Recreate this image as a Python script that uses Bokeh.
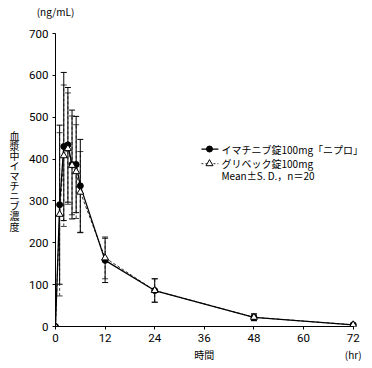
from bokeh.plotting import figure
from bokeh.models import (Label, Range1d, Whisker, ColumnDataSource, FixedTicker, TeeHead,
                          LinearAxis)
from bokeh.embed import file_html
from bokeh.resources import INLINE

hours = [0, 1, 2, 3, 4, 5, 6, 12, 24, 48, 72]
nipro_mean = [0, 291, 430, 434, 387, 387, 336, 158, 86, 22, 4]
nipro_sd = [0, 190, 177, 137, 130, 115, 111, 53, 28, 8, 2]
glivec_mean = [0, 268, 408, 425, 385, 370, 321, 164, 86, 22, 4]
glivec_sd = [0, 195, 169, 133, 118, 112, 97, 50, 28, 8, 2]
y_ticks = [0, 100, 200, 300, 400, 500, 600, 700]
x_ticks = [0, 12, 24, 36, 48, 60, 72]
legend_labels = ["イマチニブ錠100mg「ニプロ」", "グリベック錠100mg", "Mean±S. D.，n＝20"]
y_title = "血漿中イマチニブ濃度"
x_title = "時間"
x_unit = "(hr)"
y_unit = "(ng/mL)"

NUM_FONT = "Liberation Sans Narrow, Roboto"
JP_FONT = "Noto Sans CJK JP"

p = figure(width=372, height=368, output_backend="svg", toolbar_location=None,
           x_range=Range1d(0, 74.5), y_range=Range1d(0, 700), x_axis_type=None, y_axis_type=None,
           min_border_left=55, min_border_right=9, min_border_top=30, min_border_bottom=42)
p.outline_line_color = None
p.background_fill_color = "white"


def text_axis(ax, font, size, standoff):
    ax.axis_line_color = None
    ax.major_tick_line_color = None
    ax.minor_tick_line_color = None
    ax.major_tick_out = 0
    ax.major_tick_in = 0
    ax.minor_tick_out = 0
    ax.minor_tick_in = 0
    ax.axis_label_standoff = 0
    ax.major_label_orientation = "horizontal"
    ax.major_label_text_font = font
    ax.major_label_text_font_size = size
    ax.major_label_text_color = "black"
    ax.major_label_standoff = standoff


# main axes
xa = LinearAxis(ticker=FixedTicker(ticks=x_ticks), bounds=(0, 72))
ya = LinearAxis(ticker=FixedTicker(ticks=y_ticks), bounds=(0, 700))
for ax in (xa, ya):
    ax.axis_line_color = "black"
    ax.axis_line_width = 1
    ax.major_tick_line_color = "black"
    ax.major_tick_out = 3
    ax.major_tick_in = 0
    ax.minor_tick_line_color = None
    ax.minor_tick_out = 0
    ax.minor_tick_in = 0
    ax.axis_label_standoff = 0
    ax.major_label_text_font = NUM_FONT
    ax.major_label_text_font_size = "11.5px"
    ax.major_label_text_color = "black"
xa.major_label_standoff = 4
ya.major_label_standoff = 4
p.add_layout(xa, "below")
p.add_layout(ya, "left")

# x title and unit as a second text-only axis below
xt_ticks = [36, 72]
xt = LinearAxis(ticker=FixedTicker(ticks=xt_ticks),
                major_label_overrides={36: x_title, 72: x_unit})
text_axis(xt, JP_FONT, "10px", 2)
p.add_layout(xt, "below")

# y unit as a text-only axis above
yu = LinearAxis(ticker=FixedTicker(ticks=[0]), major_label_overrides={0: y_unit})
text_axis(yu, JP_FONT, "10px", 15)
p.add_layout(yu, "above")

# vertical stacked y title as a text-only axis on the left
n = len(y_title)
yt_ticks = [int(round(348 + (n / 2 - 0.5 - i) * 24)) for i in range(n)]
yt = LinearAxis(ticker=FixedTicker(ticks=yt_ticks),
                major_label_overrides={t: ch for t, ch in zip(yt_ticks, y_title)})
text_axis(yt, JP_FONT, "10px", 7)
p.add_layout(yt, "left")


def upper(m, s):
    return [a + b for a, b in zip(m, s)]


def lower(m, s):
    return [a - b for a, b in zip(m, s)]


src_n = ColumnDataSource(dict(x=hours, y=nipro_mean, up=upper(nipro_mean, nipro_sd), lo=lower(nipro_mean, nipro_sd)))
src_g = ColumnDataSource(dict(x=hours, y=glivec_mean, up=upper(glivec_mean, glivec_sd), lo=lower(glivec_mean, glivec_sd)))

wg = Whisker(source=src_g, base="x", upper="up", lower="lo", line_color="#444444", line_width=1, line_dash="3 2",
             upper_head=TeeHead(size=6, line_color="#444444", line_width=1),
             lower_head=TeeHead(size=6, line_color="#444444", line_width=1))
wn = Whisker(source=src_n, base="x", upper="up", lower="lo", line_color="black", line_width=1,
             upper_head=TeeHead(size=6, line_color="black", line_width=1),
             lower_head=TeeHead(size=6, line_color="black", line_width=1))
p.add_layout(wg)
p.add_layout(wn)

p.line("x", "y", source=src_g, line_color="#333333", line_width=1, line_dash="3 2")
p.line("x", "y", source=src_n, line_color="black", line_width=1.3)
p.scatter("x", "y", source=src_n, marker="circle", size=6, fill_color="black", line_color="black")
p.scatter("x", "y", source=src_g, marker="triangle", size=7, fill_color="white", line_color="black", line_width=1)

# legend
leg_y = [424, 389, 361]
p.line([35.3, 39.4], [leg_y[0], leg_y[0]], line_color="black", line_width=1.3)
p.scatter([37.25], [leg_y[0]], marker="circle", size=6, fill_color="black", line_color="black")
p.line([35.3, 39.4], [leg_y[1], leg_y[1]], line_color="#333333", line_width=1, line_dash="2 2")
p.scatter([37.25], [leg_y[1]], marker="triangle", size=7, fill_color="white", line_color="black")
for txt, yy in zip(legend_labels, leg_y):
    p.add_layout(Label(x=40.15, y=yy, text=txt, text_font=JP_FONT, text_font_size="10px",
                       text_baseline="middle", text_align="left", text_color="black"))

open("out.html", "w").write(file_html(p, INLINE))
